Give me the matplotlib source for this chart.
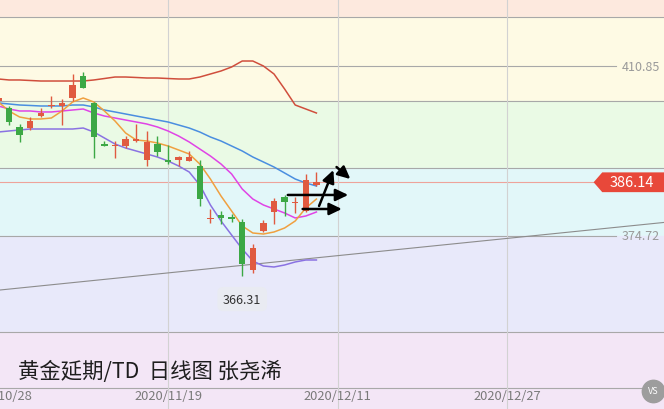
"""黄金延期/TD 日线图 — candlestick chart with moving averages and price bands."""

import matplotlib

matplotlib.use("Agg")
import matplotlib.pyplot as plt
import numpy as np
from matplotlib.patches import Polygon
from matplotlib.transforms import blended_transform_factory

plt.rcParams["font.family"] = ["Noto Sans CJK SC", "DejaVu Sans"]

# ---- data -----------------------------------------------------------------
opens = [403.41, 401.92, 397.89, 397.67, 400.22, 402.35, 402.35, 404.05, 408.73, 402.99,
         394.27, 393.85, 393.85, 394.91, 390.87, 394.27, 390.77, 390.87, 390.66, 389.60,
         378.23, 379.18, 378.76, 377.70, 367.49, 375.78, 379.82, 383.01, 381.63, 380.03,
         385.57]
highs = [404.69, 402.35, 398.52, 400.01, 401.92, 404.48, 403.84, 409.15, 409.58, 403.20,
         394.91, 394.91, 395.97, 398.52, 397.04, 395.97, 394.06, 391.72, 392.79, 390.87,
         380.46, 380.03, 379.40, 378.33, 373.02, 378.12, 382.80, 383.44, 383.01, 387.90,
         388.34]
lows = [402.99, 398.31, 394.70, 397.25, 400.01, 401.92, 398.31, 403.41, 406.18, 391.30,
        393.85, 391.30, 393.42, 394.70, 389.60, 391.72, 390.02, 389.60, 390.66, 381.10,
        377.48, 377.27, 377.70, 366.31, 366.86, 375.57, 377.27, 378.97, 379.61, 379.80,
        385.35]
closes = [404.05, 398.95, 396.19, 399.16, 400.86, 402.56, 402.99, 406.81, 406.18, 395.76,
          393.85, 394.06, 395.34, 395.34, 394.70, 392.57, 390.55, 391.51, 391.51, 382.58,
          378.44, 378.55, 378.33, 368.77, 372.17, 377.48, 382.16, 381.95, 381.85, 386.62,
          386.14]

ma_red = [408.09, 407.88, 407.88, 407.77, 407.66, 407.66, 407.66, 407.66, 407.66, 407.88,
          408.19, 408.51, 408.51, 408.41, 408.30, 408.30, 408.19, 408.09, 408.09, 408.51,
          409.15, 409.79, 410.64, 411.91, 411.91, 410.85, 409.15, 405.96, 402.56, 401.71,
          400.86]
ma_blue = [402.99, 402.78, 402.56, 402.46, 402.35, 402.35, 402.35, 402.56, 402.56, 402.14,
           401.50, 401.08, 400.65, 400.22, 399.80, 399.37, 398.95, 398.31, 397.67, 396.82,
           395.76, 394.91, 393.85, 392.79, 391.51, 390.45, 389.38, 388.11, 386.83, 385.98,
           385.35]
ma_magenta = [402.35, 401.71, 401.29, 401.29, 401.08, 401.08, 401.29, 401.50, 401.71, 400.86,
              400.22, 399.80, 399.37, 398.95, 398.52, 397.89, 397.04, 395.97, 394.70, 393.21,
              391.72, 390.02, 387.90, 384.71, 382.58, 381.31, 380.46, 379.61, 378.55, 378.97,
              379.82]
ma_orange = [403.20, 401.29, 400.01, 399.59, 399.59, 399.80, 401.29, 403.20, 404.05, 403.20,
             401.29, 399.16, 396.61, 395.12, 394.91, 394.49, 393.85, 393.00, 392.15, 390.02,
             386.83, 383.22, 380.03, 376.85, 375.36, 375.14, 375.57, 376.42, 377.91, 380.67,
             382.58]
ma_purple = [396.82, 397.04, 397.25, 397.46, 397.46, 397.46, 397.46, 397.46, 397.67, 396.82,
             395.55, 394.27, 393.42, 392.79, 392.15, 391.51, 390.66, 389.60, 388.32, 385.56,
             381.31, 377.91, 374.93, 371.96, 369.41, 368.34, 368.13, 368.56, 369.20, 369.62,
             369.62]

# band boundaries (price) and their fill colours, top to bottom
band_edges = [430.0, 421.27, 403.41, 389.17, 374.72, 354.32, 330.0]
band_colors = ["#fde9de", "#fefae4", "#eafae5", "#e2f7f9", "#e8e9fa", "#f3e6f6"]
grid_levels = [421.27, 403.41, 389.17, 354.32, 342.41]
marked_levels = [410.85, 374.72]
last_price = 386.14

date_labels = ["2020/10/28", "2020/11/19", "2020/12/11", "2020/12/27"]
date_index = [0, 16, 32, 48]

# support line: (index, price) end points
trend_x = [0.15, 62.79]
trend_y = [363.24, 377.60]

# hand-drawn arrows: (x0, y0, x1, y1) in index / price
arrows = [
    (27.3, 383.44, 33.0, 383.44),
    (28.7, 380.46, 32.4, 380.46),
    (30.25, 381.10, 31.6, 388.75),
    (31.9, 389.38, 33.2, 386.83),
]

UP = "#e05a40"
DOWN = "#3ca845"


def main() -> None:
    fig = plt.figure(figsize=(6.64, 4.10), dpi=100)
    ax = fig.add_axes([0, 0, 1, 1])
    ax.set_xlim(0.151, 62.79)
    ax.set_ylim(337.95, 425.09)
    ax.axis("off")

    for top, bottom, color in zip(band_edges[:-1], band_edges[1:], band_colors):
        ax.axhspan(bottom, top, color=color, zorder=0)
    for level in grid_levels:
        ax.axhline(level, color="#a8a8a8", lw=0.8, zorder=1)
    blend = blended_transform_factory(ax.transAxes, ax.transData)
    for level in marked_levels:
        ax.axhline(level, xmax=0.928, color="#a8a8a8", lw=0.8, zorder=1)
        ax.text(0.994, level, f"{level:.2f}", transform=blend,
                ha="right", va="center", fontsize=9, color="#9a9a9a", zorder=2)
    ax.axhline(last_price, color="#eea39b", lw=0.8, zorder=1)
    for idx in date_index:
        ax.axvline(idx, color="#d2d2d2", lw=0.8, zorder=1)

    ax.plot(trend_x, trend_y, color="#8c8c8c", lw=0.8, zorder=2)

    idx = np.arange(len(opens))
    for series, color in [(ma_red, "#d04e3c"), (ma_blue, "#4a8ee0"), (ma_magenta, "#e044e6"),
                          (ma_orange, "#f0a040"), (ma_purple, "#8a72e2")]:
        ax.plot(idx, series, color=color, lw=1.1, zorder=3)

    o = np.array(opens)
    c = np.array(closes)
    colors = np.where(c >= o, UP, DOWN)
    ax.vlines(idx, lows, highs, colors=colors, lw=1.0, zorder=4)
    heights = np.maximum(np.abs(c - o), 0.25)
    ax.bar(idx, heights, bottom=np.minimum(o, c), width=0.62, color=colors, zorder=5)

    for x0, y0, x1, y1 in arrows:
        ax.annotate("", xy=(x1, y1), xytext=(x0, y0),
                    arrowprops=dict(arrowstyle="-|>,head_length=0.75,head_width=0.36",
                                    color="black", lw=1.8, shrinkA=0, shrinkB=0), zorder=6)

    # lowest-low label
    low_i = int(np.argmin(lows))
    ax.text(low_i, lows[low_i] - 5.0, f"{lows[low_i]:.2f}", ha="center", va="center",
            fontsize=9, color="#333333", zorder=6,
            bbox=dict(boxstyle="round,pad=0.45", fc="#e9ebf2", ec="none"))

    # last price tag
    half = 2.1
    tag = Polygon([(0.894, last_price), (0.907, last_price + half), (1.0, last_price + half),
                   (1.0, last_price - half), (0.907, last_price - half)],
                  closed=True, transform=blend, fc="#e8483a", ec="none", zorder=7)
    ax.add_patch(tag)
    ax.text(0.952, last_price, f"{last_price:.2f}", transform=blend, ha="center", va="center",
            fontsize=10.5, color="white", zorder=8)

    for label, pos in zip(date_labels, date_index):
        ax.text(pos, 340.72, label, ha="center", va="center", fontsize=9.3, color="#7a7a7a", zorder=6)

    ax.text(0.027, 0.092, "黄金延期/TD  日线图 张尧浠", transform=ax.transAxes,
            ha="left", va="center", fontsize=15.4, color="#1e1e1e", zorder=6)

    # corner badge
    ax.scatter([0.984], [0.044], s=260, color="#9d9d9d", transform=ax.transAxes, zorder=8,
               clip_on=False)
    ax.text(0.984, 0.044, "VS", transform=ax.transAxes, ha="center", va="center",
            fontsize=6.5, color="white", zorder=9)

    fig.savefig("out.png", dpi=100)
    plt.close(fig)


if __name__ == "__main__":
    main()
